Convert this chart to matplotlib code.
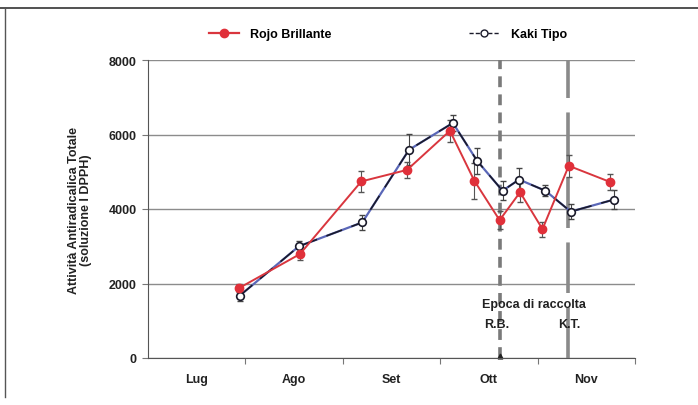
import matplotlib
matplotlib.use("Agg")
import matplotlib.pyplot as plt
from matplotlib.lines import Line2D

plt.rcParams['font.family'] = ['Liberation Sans', 'DejaVu Sans']

# ─── DATA ─────────────────────────────────────────────────────
# x in months from 1 July (0 = start of Lug, 5 = end of Nov)
months = ["Lug", "Ago", "Set", "Ott", "Nov"]

rb_x   = [0.93, 1.56, 2.19, 2.66, 3.10, 3.35, 3.61, 3.82, 4.05, 4.32, 4.74]
rb_y   = [1870, 2790, 4740, 5050, 6100, 4760, 3700, 4450, 3460, 5160, 4730]
rb_err = [110, 150, 280, 220, 300, 480, 250, 250, 200, 300, 220]

kt_x   = [0.94, 1.55, 2.20, 2.68, 3.13, 3.38, 3.64, 3.81, 4.08, 4.34, 4.78]
kt_y   = [1670, 3000, 3640, 5590, 6310, 5290, 4490, 4790, 4490, 3930, 4250]
kt_err = [130, 150, 200, 420, 220, 350, 250, 300, 150, 200, 250]

harvest_rb = 3.61
harvest_kt = 4.31
# ──────────────────────────────────────────────────────────────

fig = plt.figure(figsize=(6.98, 4.06), dpi=100)
ax = fig.add_axes([148 / 698, 1 - 359 / 406, 487 / 698, 298 / 406])

# scanned page border
fig.add_artist(Line2D([0, 1], [1 - 9 / 406, 1 - 9 / 406], color="#333333", lw=1.2))
fig.add_artist(Line2D([5 / 698, 5 / 698], [1 - 9 / 406, 1 - 398 / 406], color="#555555", lw=1.0))

# harvest lines
ax.axvline(harvest_rb, color="#7a7a7a", lw=2.6, ls=(0, (3, 2)), zorder=1)
ax.axvline(harvest_kt, color="#8a8a8a", lw=2.6, ls=(0, (14, 4)), zorder=1)
ax.plot([harvest_rb], [60], marker="^", color="#222222", markersize=3.5,
        clip_on=False, zorder=2)

# Kaki Tipo: blue base with dark dashes on top (printed look)
ax.errorbar(kt_x, kt_y, yerr=kt_err, fmt="none", ecolor="#444444",
            elinewidth=0.8, capsize=2.5, zorder=3)
ax.plot(kt_x, kt_y, color="#5a67b8", lw=1.6, zorder=3)
ax.plot(kt_x, kt_y, color="#1a1a2a", lw=1.2, ls=(0, (10, 6)), zorder=4,
        marker="o", markersize=5.5, markerfacecolor="white",
        markeredgecolor="#1a1a2a", markeredgewidth=1.2)

# Rojo Brillante
ax.errorbar(rb_x, rb_y, yerr=rb_err, fmt="none", ecolor="#555555",
            elinewidth=0.8, capsize=2.5, zorder=3)
ax.plot(rb_x, rb_y, color="#d9363e", lw=1.4, marker="o", markersize=6,
        markerfacecolor="#e0303a", markeredgecolor="#e0303a", zorder=5)

ax.set_xlim(0, 5)
ax.set_ylim(0, 8000)
ax.set_yticks([0, 2000, 4000, 6000, 8000])
ax.set_yticklabels(["0", "2000", "4000", "6000", "8000"],
                   fontsize=9, fontweight="bold", color="#222222")
ax.yaxis.grid(True, color="#8c8c8c", lw=1.0)
ax.set_axisbelow(True)

ax.set_xticks([1, 2, 3, 4, 5])
ax.set_xticklabels([])
ax.set_xticks([0.5, 1.5, 2.5, 3.5, 4.5], minor=True)
ax.set_xticklabels(months, minor=True, fontsize=9, fontweight="bold", color="#222222")
ax.tick_params(axis="x", which="minor", length=0, pad=11)
ax.tick_params(axis="x", which="major", length=4, color="#777777")
ax.tick_params(axis="y", length=4, color="#777777", pad=4)

for s in ["top", "right"]:
    ax.spines[s].set_visible(False)
ax.spines["left"].set_color("#555555")
ax.spines["bottom"].set_color("#555555")

ax.set_ylabel("Attività Antiradicalica Totale\n(soluzione I DPPH)",
              fontsize=9, fontweight="bold", color="#222222", labelpad=12,
              linespacing=1.0)

# harvest annotations
ax.text((harvest_rb + harvest_kt) / 2, 1450, "Epoca di raccolta", ha="center",
        va="center", fontsize=9, fontweight="bold", color="#222222")
ax.text(harvest_rb - 0.03, 900, "R.B.", ha="center", va="center",
        fontsize=9, fontweight="bold", color="#222222")
ax.text(harvest_kt + 0.02, 900, "K.T.", ha="center", va="center",
        fontsize=9, fontweight="bold", color="#222222")

# legend drawn as a strip above the axes
h_rb = Line2D([], [], color="#d9363e", lw=1.6, marker="o", markersize=6,
              markerfacecolor="#e0303a", markeredgecolor="#e0303a")
h_kt = Line2D([], [], color="#1a1a2a", lw=1.0, ls=(0, (3, 1.5)), marker="o",
              markersize=5, markerfacecolor="white", markeredgecolor="#1a1a2a")
fig.legend([h_rb, h_kt], ["Rojo Brillante", "Kaki Tipo"], loc="center",
           bbox_to_anchor=(388 / 698, 1 - 35 / 406), ncol=2, frameon=False,
           prop={"weight": "bold", "size": 9}, columnspacing=11,
           handlelength=2.4, handletextpad=0.9)

fig.savefig("out.png", dpi=100)
